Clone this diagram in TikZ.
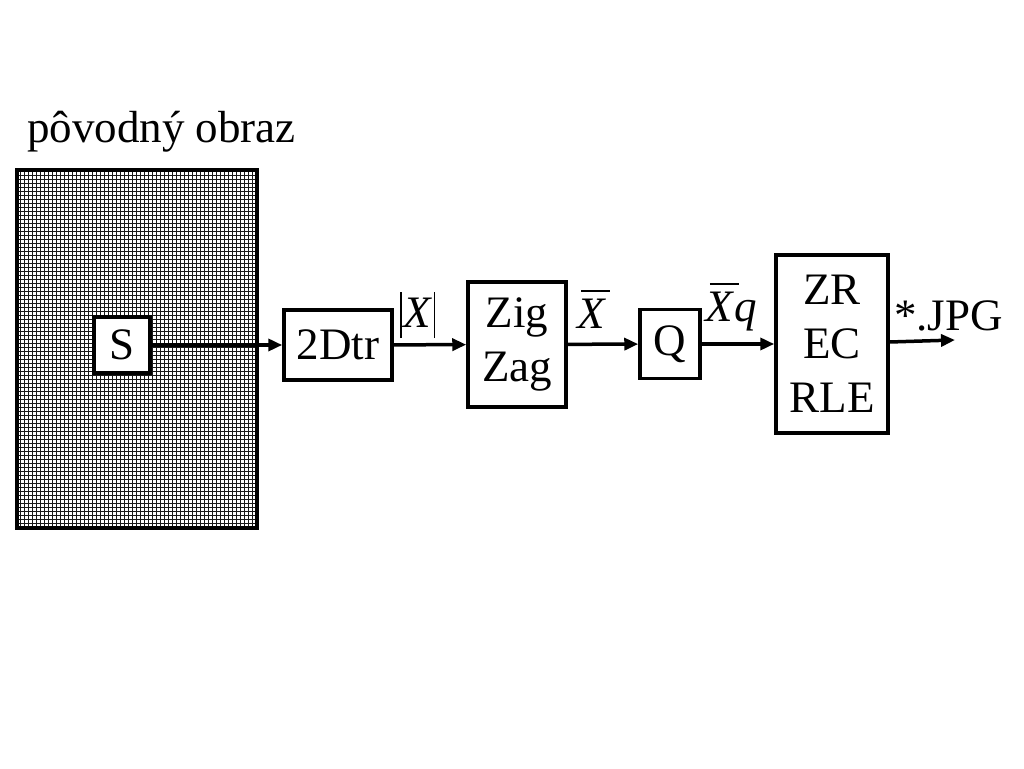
\documentclass[tikz,border=0pt]{standalone}
\usepackage{fontspec}
\setmainfont{Liberation Serif}
\usepackage{tikz}
\usetikzlibrary{arrows.meta, positioning}

\tikzset{
  blok/.style={draw, line width=3.5pt, fill=white, inner sep=0pt, align=center,
    font=\fontsize{45}{54}\selectfont},
  sipka/.style={line width=3.5pt, -{Triangle[length=14pt, width=12pt]}},
  popis/.style={font=\fontsize{45}{54}\selectfont, inner sep=3pt}
}
% pruhy a absolutna hodnota bez matematiky
\newcommand{\pruh}[1]{\leavevmode\setbox0\hbox{#1}%
  \vbox{\offinterlineskip\moveright4pt\hbox{\vrule width\wd0 height 2pt}\kern7pt\box0}}
\newcommand{\absv}[1]{\rule[-0.24em]{1.6pt}{1.02em}\hspace{2pt}#1\hspace{1pt}\rule[-0.24em]{1.6pt}{1.02em}}

\begin{document}
\begin{tikzpicture}[x=1pt, y=1pt]
  \useasboundingbox (0,0) rectangle (1024,768);
  % povodny obraz
  \node[popis, anchor=base west, inner sep=0pt] (nadpis) at (27,625) {pôvodný obraz};
  \draw[black!90, line width=1pt, step=4pt] (17,240) grid (257,598);
  \draw[line width=4pt] (17,240) rectangle (257,598);
  % bloky
  \node[blok, minimum width=56pt, minimum height=56pt] (S) at (122,423) {S};
  \node[blok, minimum width=108pt, minimum height=70pt] (Dtr) at (338,423) {2Dtr};
  \node[blok, minimum width=98pt, minimum height=125pt] (Zig) at (517,423.5) {Zig\\Zag};
  \node[blok, minimum width=60pt, minimum height=69pt] (Q) at (670,424) {Q};
  \node[blok, minimum width=112pt, minimum height=178pt] (ZR) at (832,424) {ZR\\EC\\RLE};
  \coordinate (zrout) at ([yshift=2pt]ZR.east);
  \coordinate (out) at (955,428);
  % sipky
  \draw[sipka] (S) -- (Dtr);
  \draw[sipka] (Dtr) -- (Zig) node[popis, pos=0.33, above=2pt] {\absv{\textit{X}}};
  \draw[sipka] (Zig) -- (Q) node[popis, pos=0.37, above=11pt] {\pruh{\textit{X}}};
  \draw[sipka] (Q) -- (ZR) node[popis, pos=0.41, above=8pt] {\pruh{\textit{X}}\kern-4pt\textit{q}};
  \draw[sipka] (zrout) -- (out) node[popis, pos=0.9, above=4pt] {*.JPG};
\end{tikzpicture}
\end{document}
